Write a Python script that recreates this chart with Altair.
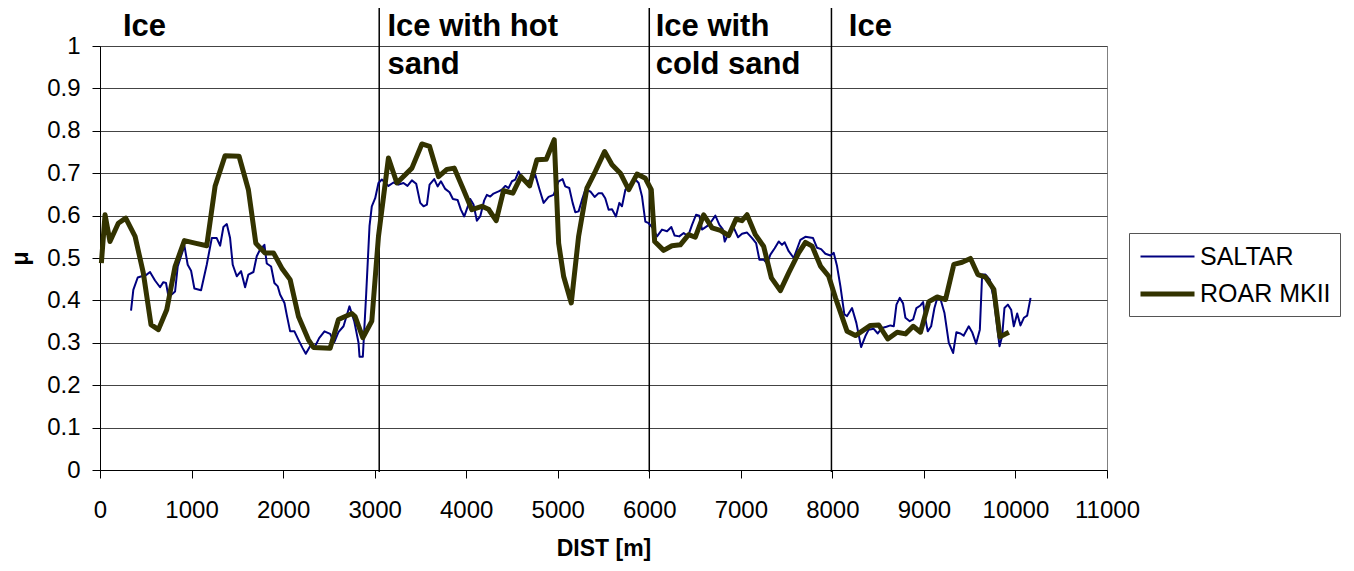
import altair as alt
import pandas as pd

# ---------------- data ----------------
series_names = ["SALTAR", "ROAR MKII"]

saltar_x = [339, 364, 412, 455, 499, 546, 601, 656, 692, 721, 747, 783, 820, 849, 885, 922, 958, 995,
            1031, 1104, 1166, 1221, 1275, 1312, 1348, 1385, 1421, 1450, 1494, 1541, 1585, 1621, 1676,
            1712, 1749, 1796, 1822, 1869, 1905, 1942, 1967, 2015, 2040, 2077, 2124, 2168, 2212, 2248,
            2295, 2350, 2394, 2452, 2514, 2558, 2605, 2660, 2725, 2777, 2824, 2835, 2871, 2908, 2944,
            2969, 3006, 3042, 3079, 3151, 3206, 3260, 3315, 3359, 3407, 3454, 3498, 3534, 3571, 3600,
            3651, 3688, 3724, 3771, 3818, 3855, 3906, 3942, 3979, 4015, 4044, 4080, 4117, 4153, 4197,
            4226, 4263, 4299, 4354, 4390, 4427, 4463, 4500, 4536, 4572, 4609, 4664, 4718, 4755, 4802,
            4846, 4900, 4955, 5010, 5053, 5082, 5126, 5163, 5192, 5228, 5265, 5301, 5356, 5403, 5447,
            5483, 5519, 5556, 5593, 5636, 5673, 5702, 5739, 5793, 5848, 5884, 5921, 5957, 5993, 6037,
            6085, 6139, 6194, 6241, 6277, 6328, 6376, 6423, 6467, 6511, 6547, 6576, 6631, 6678, 6722,
            6766, 6802, 6824, 6868, 6923, 6970, 7013, 7068, 7123, 7167, 7203, 7250, 7287, 7323, 7370,
            7414, 7450, 7479, 7523, 7578, 7651, 7705, 7789, 7833, 7877, 7924, 7979, 8015, 8051, 8088,
            8131, 8161, 8215, 8262, 8314, 8361, 8397, 8452, 8496, 8543, 8591, 8634, 8671, 8700, 8736,
            8772, 8798, 8845, 8882, 8918, 8962, 8991, 9017, 9042, 9079, 9115, 9144, 9180, 9224, 9272,
            9319, 9355, 9399, 9435, 9490, 9527, 9570, 9611, 9636, 9673, 9720, 9764, 9800, 9826, 9855,
            9880, 9917, 9953, 9982, 10019, 10055, 10092, 10128, 10165]
saltar_y = [0.376, 0.425, 0.454, 0.457, 0.459, 0.467, 0.447, 0.431, 0.443, 0.441, 0.410, 0.414, 0.421,
            0.480, 0.504, 0.529, 0.484, 0.470, 0.428, 0.424, 0.484, 0.547, 0.547, 0.529, 0.573, 0.580,
            0.547, 0.484, 0.457, 0.469, 0.431, 0.461, 0.467, 0.504, 0.520, 0.531, 0.487, 0.480, 0.441,
            0.433, 0.414, 0.394, 0.366, 0.327, 0.327, 0.307, 0.288, 0.274, 0.292, 0.292, 0.311, 0.327,
            0.321, 0.301, 0.325, 0.339, 0.386, 0.351, 0.300, 0.267, 0.267, 0.417, 0.575, 0.622, 0.641,
            0.677, 0.685, 0.670, 0.678, 0.673, 0.677, 0.670, 0.683, 0.675, 0.630, 0.622, 0.626, 0.673,
            0.686, 0.669, 0.681, 0.663, 0.655, 0.639, 0.637, 0.614, 0.598, 0.620, 0.639, 0.626, 0.588,
            0.598, 0.636, 0.649, 0.645, 0.652, 0.657, 0.661, 0.670, 0.665, 0.681, 0.685, 0.704, 0.688,
            0.681, 0.685, 0.696, 0.661, 0.630, 0.644, 0.649, 0.681, 0.686, 0.669, 0.665, 0.630, 0.608,
            0.610, 0.637, 0.661, 0.657, 0.644, 0.653, 0.653, 0.641, 0.614, 0.615, 0.598, 0.630, 0.622,
            0.661, 0.673, 0.685, 0.677, 0.645, 0.586, 0.582, 0.571, 0.551, 0.567, 0.563, 0.573, 0.553,
            0.551, 0.559, 0.551, 0.578, 0.602, 0.600, 0.567, 0.575, 0.586, 0.600, 0.578, 0.568, 0.539,
            0.559, 0.571, 0.549, 0.557, 0.560, 0.547, 0.535, 0.496, 0.496, 0.487, 0.508, 0.523, 0.539,
            0.531, 0.537, 0.516, 0.500, 0.543, 0.550, 0.547, 0.524, 0.521, 0.510, 0.506, 0.512, 0.481,
            0.433, 0.367, 0.363, 0.382, 0.347, 0.290, 0.316, 0.331, 0.333, 0.322, 0.335, 0.338, 0.341,
            0.339, 0.390, 0.406, 0.393, 0.359, 0.351, 0.355, 0.382, 0.388, 0.396, 0.355, 0.327, 0.339,
            0.382, 0.404, 0.404, 0.371, 0.300, 0.276, 0.325, 0.322, 0.317, 0.339, 0.325, 0.298, 0.331,
            0.461, 0.461, 0.449, 0.402, 0.339, 0.292, 0.316, 0.382, 0.390, 0.378, 0.339, 0.369, 0.341,
            0.359, 0.364, 0.406]

roar_x = [15, 55, 109, 200, 281, 383, 473, 557, 638, 729, 820, 922, 1038, 1166, 1257, 1366, 1519,
          1621, 1702, 1803, 1895, 1986, 2077, 2168, 2277, 2332, 2514, 2605, 2751, 2787, 2871, 2969,
          3042, 3151, 3243, 3407, 3516, 3600, 3698, 3789, 3869, 3971, 4062, 4172, 4244, 4328, 4408,
          4510, 4598, 4693, 4773, 4875, 4962, 5010, 5064, 5148, 5228, 5319, 5410, 5512, 5593, 5684,
          5775, 5866, 5957, 6022, 6059, 6157, 6248, 6339, 6430, 6503, 6594, 6686, 6777, 6868, 6948,
          7013, 7068, 7159, 7250, 7334, 7432, 7523, 7632, 7706, 7779, 7870, 7960, 8034, 8161, 8252,
          8416, 8507, 8605, 8708, 8799, 8883, 8963, 9054, 9145, 9236, 9327, 9418, 9509, 9589, 9673,
          9764, 9830, 9928]
roar_y = [0.488, 0.602, 0.539, 0.582, 0.594, 0.551, 0.465, 0.343, 0.331, 0.378, 0.480, 0.541, 0.535,
          0.529, 0.669, 0.741, 0.740, 0.661, 0.535, 0.512, 0.512, 0.476, 0.449, 0.362, 0.307, 0.289,
          0.287, 0.355, 0.369, 0.362, 0.312, 0.351, 0.551, 0.736, 0.677, 0.712, 0.769, 0.763, 0.692,
          0.709, 0.712, 0.661, 0.614, 0.622, 0.615, 0.588, 0.659, 0.653, 0.692, 0.670, 0.732, 0.733,
          0.779, 0.535, 0.457, 0.394, 0.551, 0.665, 0.704, 0.751, 0.720, 0.700, 0.661, 0.698, 0.688,
          0.661, 0.539, 0.518, 0.529, 0.531, 0.555, 0.549, 0.602, 0.571, 0.565, 0.553, 0.592, 0.588,
          0.602, 0.555, 0.527, 0.453, 0.423, 0.465, 0.512, 0.537, 0.528, 0.481, 0.457, 0.406, 0.327,
          0.317, 0.341, 0.342, 0.309, 0.325, 0.321, 0.339, 0.325, 0.397, 0.408, 0.402, 0.485, 0.490,
          0.499, 0.461, 0.455, 0.426, 0.314, 0.325]

zone_bounds = [3050, 6000, 7990]
zone_label_x = [250, 3140, 6070, 8180]
zone_label_text = ["Ice", "Ice with hot\nsand", "Ice with\ncold sand", "Ice"]

x_ticks = [0, 1000, 2000, 3000, 4000, 5000, 6000, 7000, 8000, 9000, 10000, 11000]
y_ticks = [0, 0.1, 0.2, 0.3, 0.4, 0.5, 0.6, 0.7, 0.8, 0.9, 1]

# ---------------- tables ----------------
df_saltar = pd.DataFrame({"dist": saltar_x, "mu": saltar_y, "series": series_names[0]})
df_roar = pd.DataFrame({"dist": roar_x, "mu": roar_y, "series": series_names[1]})
df_zones = pd.DataFrame({"dist": zone_bounds})
df_labels = pd.DataFrame({"dist": zone_label_x, "text": zone_label_text})

FONT = "Liberation Sans"

x_enc = alt.X("dist:Q",
              scale=alt.Scale(domain=[0, 11000], nice=False, zero=False),
              axis=alt.Axis(values=x_ticks, format="d", title="DIST [m]", grid=False,
                            labelOverlap=False, labelFlush=False,
                            tickSize=8, labelPadding=20, titlePadding=15))
y_enc = alt.Y("mu:Q",
              scale=alt.Scale(domain=[0, 1], nice=False),
              axis=alt.Axis(values=y_ticks, format="~g", title="μ", grid=True,
                            labelOverlap=False, labelFlush=False,
                            tickSize=8, labelPadding=12, titlePadding=14))

color_scale = alt.Scale(domain=series_names, range=["#000080", "#333300"])
width_scale = alt.Scale(domain=series_names, range=[2, 5])
legend = alt.Legend(title=None, orient="none", legendX=1029, legendY=187,
                    symbolType="M-1,0H3", symbolSize=729, symbolFillColor="transparent",
                    labelFontSize=25, labelFont=FONT, labelColor="black",
                    strokeColor="#555555", padding=9, labelOffset=30, rowPadding=8)

saltar_line = alt.Chart(df_saltar).mark_line(strokeJoin="round").encode(
    x=x_enc, y=y_enc,
    color=alt.Color("series:N", scale=color_scale, legend=legend),
    strokeWidth=alt.StrokeWidth("series:N", scale=width_scale, legend=legend),
)
roar_line = alt.Chart(df_roar).mark_line(strokeJoin="round").encode(
    x=x_enc, y=y_enc,
    color=alt.Color("series:N", scale=color_scale, legend=legend),
    strokeWidth=alt.StrokeWidth("series:N", scale=width_scale, legend=legend),
)

zone_rules = alt.Chart(df_zones).mark_rule(color="black", strokeWidth=1.5).encode(
    x=alt.X("dist:Q"), y=alt.value(-40), y2=alt.value(426)
)
zone_text = alt.Chart(df_labels).mark_text(
    align="left", baseline="alphabetic", fontSize=31, fontWeight="bold", font=FONT,
    lineBreak="\n", lineHeight=38, color="black"
).encode(x=alt.X("dist:Q"), y=alt.value(-10), text="text:N")

chart = alt.layer(zone_rules, saltar_line, roar_line, zone_text).properties(
    width=1007, height=424,
    autosize=alt.AutoSizeParams(type="none"),
    padding={"left": 92, "top": 38, "right": 239, "bottom": 93},
).configure_view(
    stroke="#808080", strokeWidth=1
).configure_axis(
    labelFont=FONT, labelFontSize=24, labelColor="black",
    titleFont=FONT, titleFontSize=23, titleFontWeight="bold", titleColor="black",
    domainColor="black", tickColor="black", gridColor="#444444", gridWidth=1,
)

chart.save("out.html", embed_options={"renderer": "svg", "actions": False})
